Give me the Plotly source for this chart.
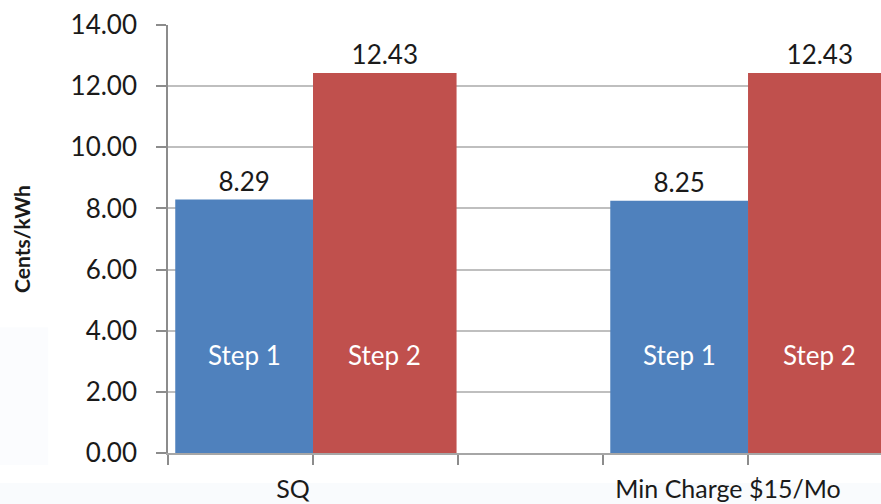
import plotly.graph_objects as go

# Tariff scenarios and the two rate steps (cents per kWh)
categories = ["SQ", "Min Charge $15/Mo"]
series_names = ["Step 1", "Step 2"]
step1_values = [8.29, 8.25]
step2_values = [12.43, 12.43]
y_ticks = [0, 2, 4, 6, 8, 10, 12, 14]

# numeric positions of each category's centre on the x axis
group_centres = [1, 4]

BLUE = "#4F81BD"
RED = "#C0504D"
FONT = "Lato, Open Sans, sans-serif"

fig = go.Figure()

fig.add_trace(go.Bar(
    x=group_centres, y=step1_values, name=series_names[0],
    marker=dict(color=BLUE, line=dict(width=0)),
    offset=-0.95, width=0.95,
    texttemplate="%{y:.2f}", textposition="outside",
    textfont=dict(family=FONT, size=26, color="#1a1a1a"),
    cliponaxis=False,
))
fig.add_trace(go.Bar(
    x=group_centres, y=step2_values, name=series_names[1],
    marker=dict(color=RED, line=dict(width=0)),
    offset=0.0, width=0.99,
    texttemplate="%{y:.2f}", textposition="outside",
    textfont=dict(family=FONT, size=26, color="#1a1a1a"),
    cliponaxis=True,
))

# series name written inside every bar
annotations = []
for centre in group_centres:
    for name, (off, w) in zip(series_names, [(-0.95, 0.95), (0.0, 0.99)]):
        annotations.append(dict(
            x=centre + off + w / 2, y=3.2, xref="x", yref="y",
            text=name, showarrow=False,
            font=dict(family=FONT, size=26, color="white"),
        ))

# faint tinted backdrop along the lower edge
shapes = [
    dict(type="rect", xref="paper", yref="paper", x0=-0.2356, x1=1.0,
         y0=-0.119, y1=-0.070, fillcolor="#f9fbfd", line=dict(width=0), layer="below"),
    dict(type="rect", xref="paper", yref="paper", x0=-0.2356, x1=-0.168,
         y0=-0.028, y1=0.294, fillcolor="#fbfcfe", line=dict(width=0), layer="below"),
]

fig.update_layout(
    width=881, height=504,
    margin=dict(l=168, r=0, t=25, b=51),
    paper_bgcolor="white", plot_bgcolor="white",
    barmode="overlay", showlegend=False,
    annotations=annotations, shapes=shapes,
    font=dict(family=FONT, color="#1a1a1a"),
)

fig.update_xaxes(
    range=[0, 4.917], automargin=False,
    tickvals=[0, 1, 2, 3, 4],
    ticktext=["", categories[0], "", "", categories[1]],
    ticks="outside", ticklen=10, tickcolor="#8c8c8c", tickwidth=1.5,
    ticklabelshift=-20, ticklabelstandoff=3,
    tickfont=dict(family=FONT, size=25, color="#1a1a1a"),
    showline=True, linecolor="#a6a6a6", linewidth=1.5,
    showgrid=False, zeroline=False,
)

fig.update_yaxes(
    range=[0, 14], automargin=False, tickvals=y_ticks, tickformat=".2f",
    ticks="outside", ticklen=10, tickcolor="#8c8c8c", tickwidth=1.5,
    ticklabelstandoff=14,
    tickfont=dict(family=FONT, size=26, color="#1a1a1a"),
    showline=True, linecolor="#8c8c8c", linewidth=1.5,
    showgrid=True, gridcolor="#bfbfbf", gridwidth=1.5,
    zeroline=False,
    title=dict(text="<b>Cents/kWh</b>", font=dict(family=FONT, size=21, color="#1a1a1a"),
               standoff=34),
)

fig.write_html("out.html")
